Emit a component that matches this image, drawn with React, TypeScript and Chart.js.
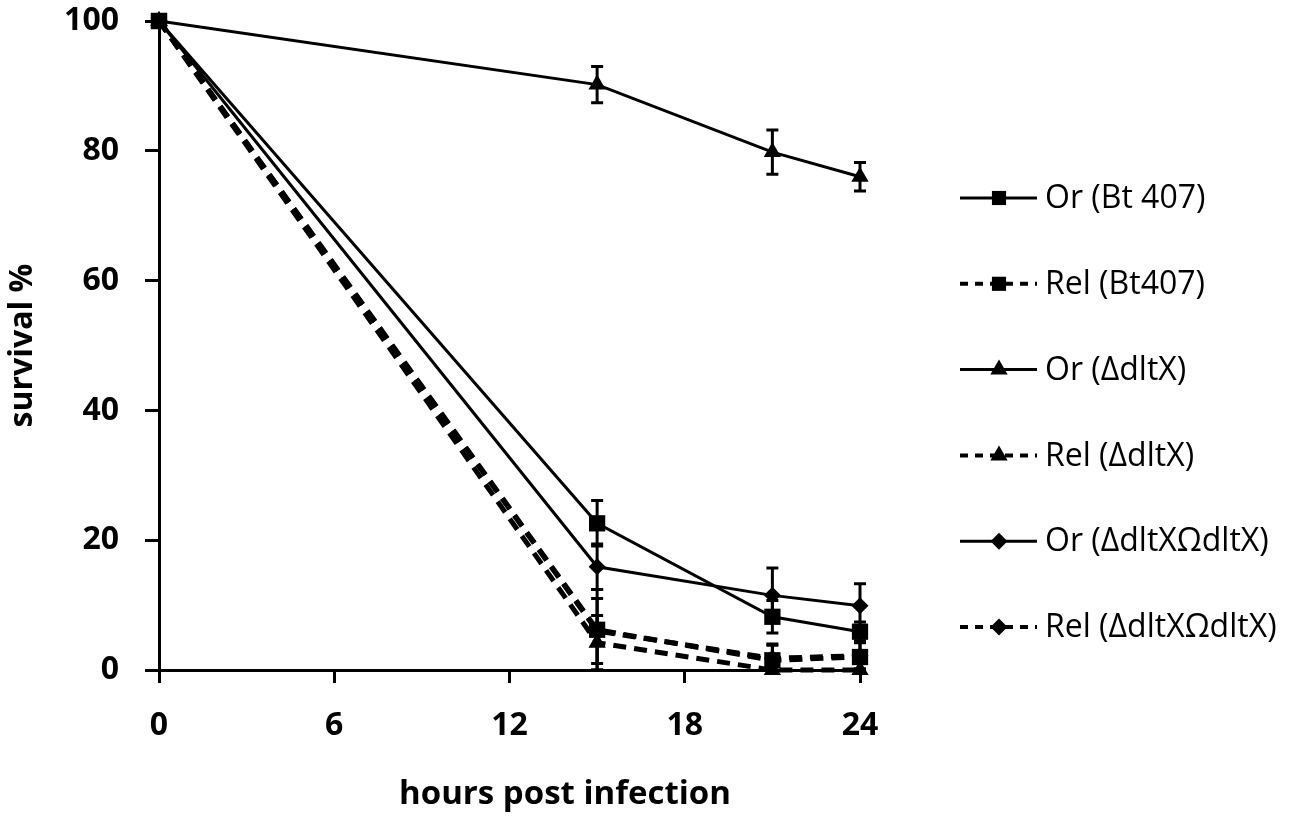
import { useEffect, useRef } from "react";
import { Chart, registerables, Plugin } from "chart.js";
import { drawPoint } from "chart.js/helpers";

Chart.register(...registerables);

const hours = [0, 15, 21, 24];
const xTicks = [0, 6, 12, 18, 24];
const yTicks = [0, 20, 40, 60, 80, 100];

const orBt407 = [100, 22.6, 8.2, 5.9];
const orBt407Err = [0, 3.5, 2.5, 1.5];
const relBt407 = [100, 6.2, 1.5, 2.0];
const relBt407Err = [0, 6.2, 2.5, 2.5];
const orDltX = [100, 90.2, 79.8, 76.0];
const orDltXErr = [0, 2.8, 3.4, 2.2];
const relDltX = [100, 4.2, 0, 0];
const relDltXErr = [0, 4.2, 0, 0];
const orComp = [100, 15.9, 11.5, 9.9];
const orCompErr = [0, 3.5, 4.2, 3.4];
const relComp = [100, 6.0, 1.8, 2.2];
const relCompErr = [0, 5.0, 2.0, 2.0];

const seriesLabels = [
  "Or (Bt 407)",
  "Rel (Bt407)",
  "Or (ΔdltX)",
  "Rel (ΔdltX)",
  "Or (ΔdltXΩdltX)",
  "Rel (ΔdltXΩdltX)",
];
const xTitle = "hours post infection";

const FONT = "'Open Sans', 'DejaVu Sans', sans-serif";

const toPoints = (values: number[]) => values.map((y, i) => ({ x: hours[i], y }));

// vertical error bars with caps, drawn under the markers
const errorBars: Plugin = {
  id: "errorBars",
  beforeDatasetsDraw(chart) {
    const { ctx, scales } = chart;
    ctx.save();
    ctx.strokeStyle = "#000";
    ctx.lineWidth = 3;
    chart.data.datasets.forEach((ds: any) => {
      if (!ds.errors) return;
      ds.data.forEach((p: any, i: number) => {
        const e = ds.errors[i];
        if (!e) return;
        const x = scales.x.getPixelForValue(p.x);
        const top = scales.y.getPixelForValue(Math.min(100, p.y + e));
        const bottom = scales.y.getPixelForValue(Math.max(0, p.y - e));
        ctx.beginPath();
        ctx.moveTo(x, top);
        ctx.lineTo(x, bottom);
        ctx.moveTo(x - 6, top);
        ctx.lineTo(x + 6, top);
        ctx.moveTo(x - 6, bottom);
        ctx.lineTo(x + 6, bottom);
        ctx.stroke();
      });
    });
    ctx.restore();
  },
};

// legend on the right (a short line with the marker in the middle) and the x title,
// which sits right of the axis centre in the original
const sideLegend: Plugin = {
  id: "sideLegend",
  afterDraw(chart) {
    const { ctx } = chart;
    ctx.save();
    chart.data.datasets.forEach((ds: any, i: number) => {
      const y = 198 + i * 85.8;
      ctx.strokeStyle = "#000";
      ctx.lineWidth = ds.borderDash ? 4 : 3;
      ctx.setLineDash(ds.borderDash ? [8, 7] : []);
      ctx.beginPath();
      ctx.moveTo(960, y);
      ctx.lineTo(1037, y);
      ctx.stroke();
      ctx.setLineDash([]);
      ctx.fillStyle = "#000";
      const r = ds.pointStyle === "rect" ? 10 : ds.pointRadius;
      drawPoint(ctx, { pointStyle: ds.pointStyle, radius: r, borderWidth: 0, rotation: 0 }, 999, y);
      ctx.fillStyle = "#000";
      ctx.font = `32px ${FONT}`;
      ctx.textBaseline = "middle";
      ctx.textAlign = "left";
      ctx.fillText(ds.label, 1045, y + 1);
    });
    ctx.font = `bold 33px ${FONT}`;
    ctx.textAlign = "center";
    ctx.textBaseline = "middle";
    ctx.fillText(xTitle, 565, 795);
    ctx.restore();
  },
};

const line = (label: string, values: number[], errors: number[], pointStyle: string, radius: number, dashed: boolean) => ({
  label,
  data: toPoints(values),
  errors,
  borderColor: "#000",
  backgroundColor: "#000",
  borderWidth: dashed ? 5 : 3,
  borderDash: dashed ? [13, 8] : undefined,
  pointStyle,
  pointRadius: radius,
  pointBorderWidth: 0,
  pointBackgroundColor: "#000",
  tension: 0,
  clip: false as const,
});

const App = () => {
  const canvasRef = useRef<HTMLCanvasElement>(null);
  const chartRef = useRef<Chart | null>(null);

  useEffect(() => {
    document.body.style.margin = "0";
    if (!canvasRef.current) return;
    if (chartRef.current) chartRef.current.destroy();

    chartRef.current = new Chart(canvasRef.current, {
      type: "line",
      data: {
        datasets: [
          line(seriesLabels[0], orBt407, orBt407Err, "rect", 11.5, false),
          line(seriesLabels[1], relBt407, relBt407Err, "rect", 11.5, true),
          line(seriesLabels[2], orDltX, orDltXErr, "triangle", 10, false),
          line(seriesLabels[3], relDltX, relDltXErr, "triangle", 10, true),
          line(seriesLabels[4], orComp, orCompErr, "rectRot", 8.5, false),
          line(seriesLabels[5], relComp, relCompErr, "rectRot", 8.5, true),
        ] as any,
      },
      options: {
        responsive: false,
        animation: false,
        events: [],
        layout: { padding: { top: 21, right: 433, left: 0, bottom: 0 } },
        plugins: {
          legend: { display: false },
          tooltip: { enabled: false },
        },
        scales: {
          x: {
            type: "linear",
            min: 0,
            max: 24,
            afterBuildTicks: (scale) => {
              scale.ticks = xTicks.map((value) => ({ value }));
            },
            afterFit: (scale: any) => {
              scale.height = 154;
              scale.paddingLeft = 0;
              scale.paddingRight = 0;
            },
            border: { color: "#000", width: 3 },
            grid: { drawOnChartArea: false, drawTicks: true, tickLength: 13, color: "#000", lineWidth: 3 },
            ticks: { color: "#000", padding: 24, font: { family: FONT, size: 32, weight: "bold" } },
          },
          y: {
            type: "linear",
            min: 0,
            max: 100,
            afterBuildTicks: (scale) => {
              scale.ticks = yTicks.map((value) => ({ value }));
            },
            afterFit: (scale: any) => {
              scale.width = 159;
              scale.paddingTop = 0;
              scale.paddingBottom = 0;
            },
            border: { color: "#000", width: 3 },
            grid: { drawOnChartArea: false, drawTicks: true, tickLength: 14, color: "#000", lineWidth: 3 },
            ticks: { color: "#000", padding: 26, font: { family: FONT, size: 32, weight: "bold" } },
            title: {
              display: true,
              text: "survival %",
              color: "#000",
              padding: { top: 4, bottom: 0 },
              font: { family: FONT, size: 32, weight: "bold" },
            },
          },
        },
      },
      plugins: [errorBars, sideLegend],
    });

    return () => {
      if (chartRef.current) {
        chartRef.current.destroy();
        chartRef.current = null;
      }
    };
  }, []);

  return (
    <div style={{ width: 1293, height: 824, background: "#fff" }}>
      <canvas ref={canvasRef} width={1293} height={824} />
    </div>
  );
};

export default App;
